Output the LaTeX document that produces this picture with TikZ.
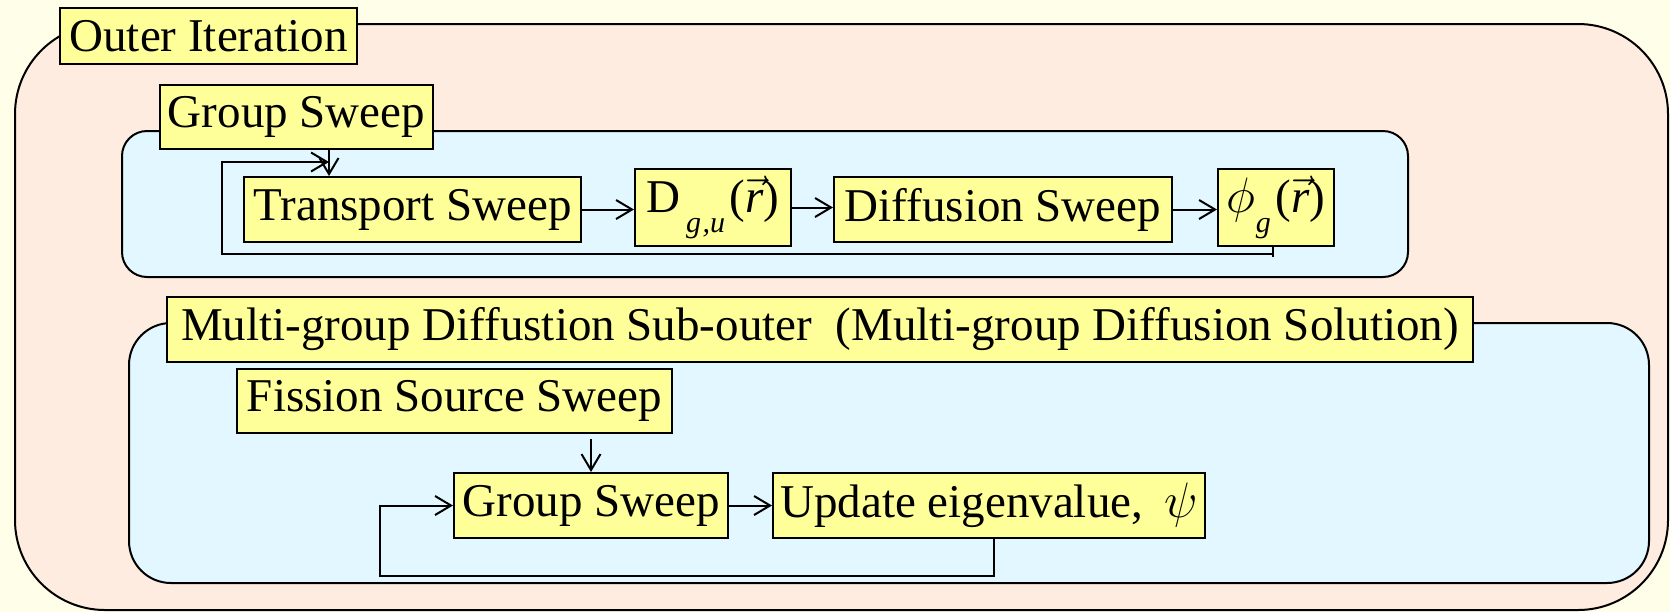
\documentclass[tikz,border=0pt]{standalone}
\usepackage{fontspec}
\setmainfont{Liberation Serif}
\usetikzlibrary{arrows.meta}
\definecolor{bgc}{HTML}{FFFEE8}
\definecolor{peach}{HTML}{FFECE0}
\definecolor{lblue}{HTML}{E2F7FF}
\definecolor{lyel}{HTML}{FFFF99}
\newcommand{\lowsub}[1]{\raisebox{-0.42em}{\fontsize{15}{15}\selectfont\itshape #1}}
\tikzset{
  ybox/.style={draw=black, line width=1pt, fill=lyel, inner sep=0pt, anchor=center,
    font=\fontsize{23.5}{28}\selectfont},
  region/.style={draw=black, line width=1pt},
  arr/.style={draw=black, line width=1pt, -{Straight Barb[length=8pt,width=9.5pt,line width=1pt]}},
  conn/.style={draw=black, line width=1pt},
}
\begin{document}
\begin{tikzpicture}[x=0.5pt,y=-0.5pt]
\fill[bgc] (0,0) rectangle (1670,612);
\useasboundingbox (0,0) rectangle (1670,612);
% containers
\draw[region, fill=peach, rounded corners=45pt] (15,24) rectangle (1668,610);
\draw[region, fill=lblue, rounded corners=12.5pt] (122,131) rectangle (1408,277);
\draw[region, fill=lblue, rounded corners=21pt] (129,323) rectangle (1649,583);
% labels
\node[ybox, minimum width=148.5pt, minimum height=28pt] (outerlbl) at (208.5,36) {Outer Iteration};
\node[ybox, minimum width=136.5pt, minimum height=32pt] (gs1) at (296.5,117) {Group Sweep};
\node[ybox, minimum width=653pt, minimum height=32.5pt] (mlbl) at (820,329.5) {Multi-group Diffustion Sub-outer\ \ (Multi-group Diffusion Solution)};
% top row
\node[ybox, minimum width=168.5pt, minimum height=32.5pt] (tr) at (412.5,209.5) {Transport Sweep};
\node[ybox, minimum width=78pt, minimum height=38.5pt] (D) at (713,207.5) {D\hspace{0.12em}\lowsub{g\hspace{0.05em},u}\hspace{0.1em}($\vec{\textit{r}}$)};
\node[ybox, minimum width=169pt, minimum height=32.5pt] (diff) at (1003,209.5) {Diffusion Sweep};
\node[ybox, minimum width=58pt, minimum height=38.5pt] (phi) at (1276,207.5) {$\phi$\lowsub{g}\hspace{0.1em}($\vec{\textit{r}}$)};
% bottom
\node[ybox, minimum width=217.5pt, minimum height=32pt] (fis) at (454.5,401) {Fission Source Sweep};
\node[ybox, minimum width=137pt, minimum height=32.5pt] (gs2) at (591,505.5) {Group Sweep};
\node[ybox, minimum width=216pt, minimum height=32.5pt] (upd) at (989,505.5) {Update eigenvalue,\hspace{0.45em}$\psi$};
% top connectors
\coordinate (a1) at (329,149);
\draw[arr] (a1) -- (a1 |- tr.north);
\draw[arr] (tr.east) -- (tr.east -| D.west);
\draw[arr] (D.east) -- (D.east -| diff.west);
\draw[arr] (diff.east) -- (diff.east -| phi.west);
\coordinate (fbA) at (222,254);
\coordinate (fbB) at (222,162);
\coordinate (phib) at (1273,246);
\draw[conn] (phib) -- ++(0,11);
\draw[arr] (phib |- fbA) -- (fbA) -- (fbB) -- (fbB -| a1);
% bottom connectors
\draw[arr] ([yshift=-2.5pt]gs2.north |- fis.south) -- (gs2.north);
\draw[arr] (gs2.east) -- (upd.west);
\coordinate (updb) at (994,538);
\coordinate (fbC) at (380,576);
\draw[arr] (updb) -- (updb |- fbC) -- (fbC) |- (gs2.west);
\end{tikzpicture}
\end{document}
